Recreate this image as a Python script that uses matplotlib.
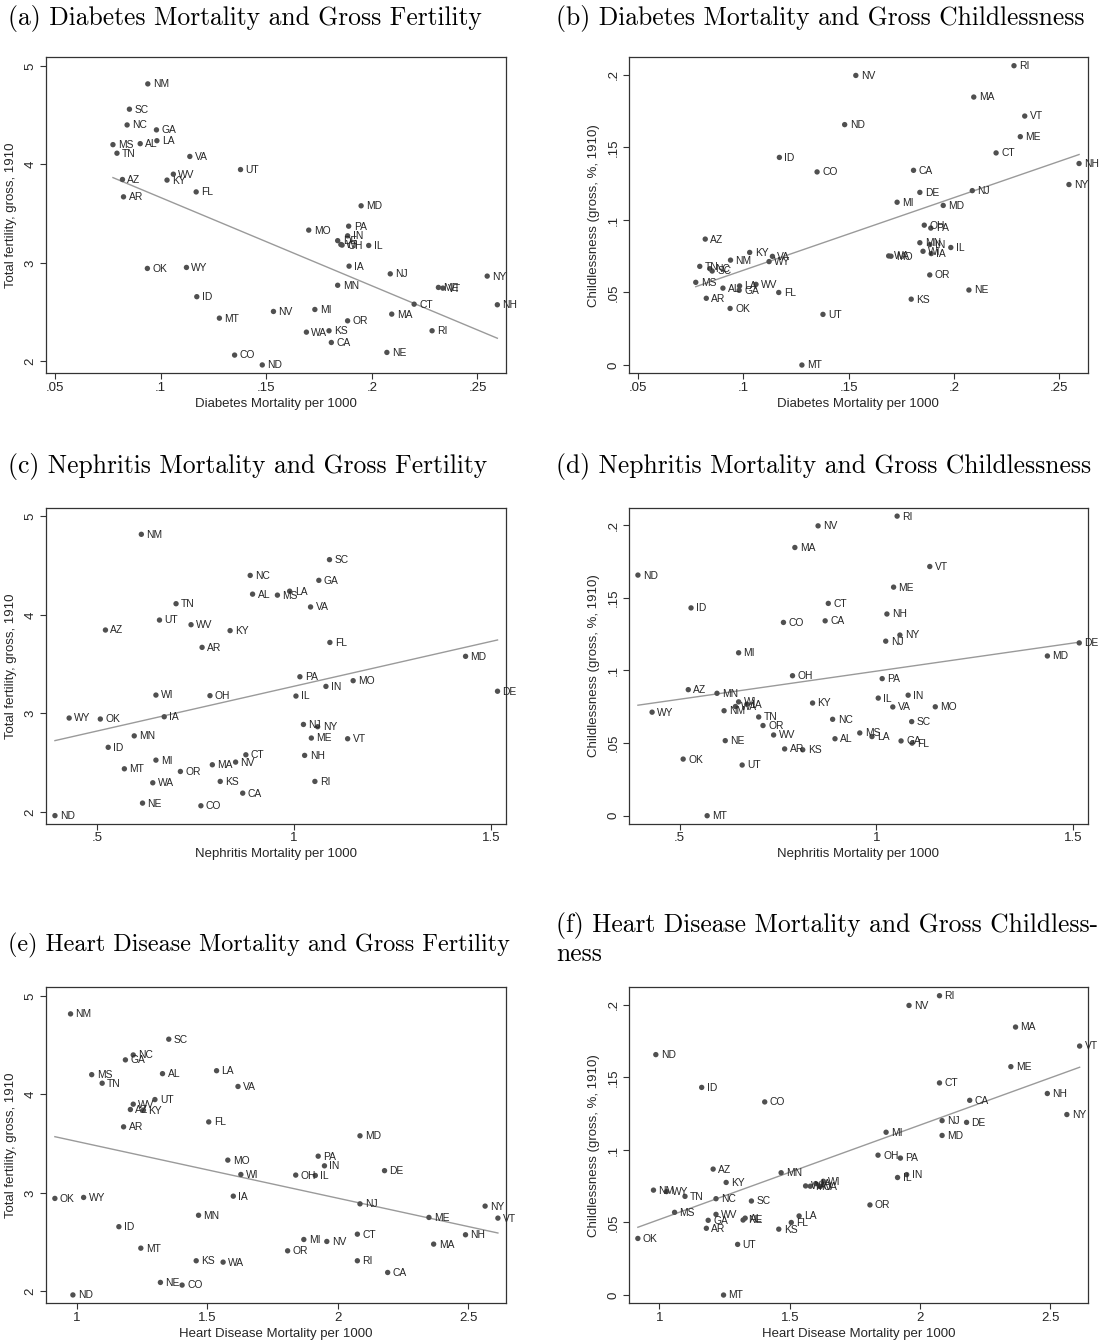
import numpy as np
import matplotlib
matplotlib.use("Agg")
import matplotlib.pyplot as plt
from matplotlib.ticker import FixedLocator, FixedFormatter
import warnings
warnings.filterwarnings("ignore")

# ---------------- data ----------------
states = ["AL", "AZ", "AR", "CA", "CO", "CT", "DE", "FL", "GA", "ID", "IL", "IN",
          "IA", "KS", "KY", "LA", "ME", "MD", "MA", "MI", "MN", "MS", "MO", "MT",
          "NE", "NV", "NH", "NJ", "NM", "NY", "NC", "ND", "OH", "OK", "OR", "PA",
          "RI", "SC", "TN", "UT", "VT", "VA", "WA", "WV", "WI", "WY"]

diabetes = [0.0903, 0.0819, 0.0824, 0.1808, 0.1350, 0.2200, 0.1838, 0.1168, 0.0980, 0.1171, 0.1985, 0.1885,
            0.1892, 0.1797, 0.1030, 0.0982, 0.2315, 0.1949, 0.2094, 0.1730, 0.1838, 0.0774, 0.1701, 0.1278,
            0.2071, 0.1534, 0.2594, 0.2087, 0.0939, 0.2546, 0.0841, 0.1481, 0.1859, 0.0937, 0.1885, 0.1890,
            0.2285, 0.0852, 0.0793, 0.1378, 0.2336, 0.1138, 0.1690, 0.1060, 0.1853, 0.1122]

nephritis = [0.895, 0.522, 0.767, 0.870, 0.764, 0.878, 1.516, 1.091, 1.063, 0.529, 1.005, 1.081,
             0.671, 0.813, 0.838, 0.989, 1.044, 1.435, 0.793, 0.650, 0.595, 0.958, 1.150, 0.570,
             0.616, 0.852, 1.027, 1.024, 0.613, 1.060, 0.889, 0.394, 0.787, 0.509, 0.712, 1.015,
             1.053, 1.090, 0.701, 0.659, 1.136, 1.042, 0.642, 0.739, 0.650, 0.430]

heart = [1.329, 1.206, 1.180, 2.191, 1.404, 2.075, 2.179, 1.506, 1.187, 1.162, 1.914, 1.949,
         1.600, 1.458, 1.256, 1.536, 2.349, 2.085, 2.367, 1.870, 1.467, 1.058, 1.579, 1.246,
         1.321, 1.958, 2.489, 2.085, 0.977, 2.564, 1.217, 0.986, 1.839, 0.917, 1.808, 1.925,
         2.075, 1.353, 1.098, 1.300, 2.613, 1.618, 1.561, 1.217, 1.629, 1.027]

fertility = [4.21, 3.846, 3.67, 2.191, 2.063, 2.58, 3.225, 3.72, 4.35, 2.656, 3.176, 3.274,
             2.966, 2.31, 3.84, 4.24, 2.75, 3.579, 2.479, 2.526, 2.772, 4.20, 3.332, 2.438,
             2.090, 2.506, 2.574, 2.888, 4.817, 2.865, 4.40, 1.963, 3.18, 2.943, 2.411, 3.372,
             2.31, 4.56, 4.113, 3.947, 2.743, 4.08, 2.296, 3.90, 3.186, 2.953]

childless = [0.053, 0.0868, 0.046, 0.1342, 0.1331, 0.1462, 0.119, 0.050, 0.0515, 0.1431, 0.081, 0.083,
             0.0768, 0.0454, 0.0776, 0.0545, 0.1574, 0.110, 0.1847, 0.1122, 0.0843, 0.057, 0.075, 0.0,
             0.0517, 0.1996, 0.1389, 0.1202, 0.0723, 0.1244, 0.0664, 0.1657, 0.0964, 0.039, 0.0621, 0.0944,
             0.2063, 0.0648, 0.068, 0.0349, 0.1716, 0.0749, 0.0752, 0.0556, 0.0784, 0.0713]

# fitted lines as shown in the reference (intercept, slope), panels a..f
fit_intercept = [4.559, 0.01526, 2.3655, 0.06086, 4.0988, -0.01293]
fit_slope = [-8.963, 0.5005, 0.910, 0.03868, -0.5767, 0.06503]

titles = ["(a) Diabetes Mortality and Gross Fertility",
          "(b) Diabetes Mortality and Gross Childlessness",
          "(c) Nephritis Mortality and Gross Fertility",
          "(d) Nephritis Mortality and Gross Childlessness",
          "(e) Heart Disease Mortality and Gross Fertility",
          "(f) Heart Disease Mortality and Gross Childless-\nness"]

xlabels = ["Diabetes Mortality per 1000", "Nephritis Mortality per 1000",
           "Heart Disease Mortality per 1000"]
ylabels = ["Total fertility, gross, 1910", "Childlessness (gross, %, 1910)"]

diab_ticks = [0.05, 0.1, 0.15, 0.2, 0.25]
diab_ticklabels = [".05", ".1", ".15", ".2", ".25"]
neph_ticks = [0.5, 1.0, 1.5]
neph_ticklabels = [".5", "1", "1.5"]
heart_ticks = [1.0, 1.5, 2.0, 2.5]
heart_ticklabels = ["1", "1.5", "2", "2.5"]
fert_ticks = [2, 3, 4, 5]
fert_ticklabels = ["2", "3", "4", "5"]
child_ticks = [0, 0.05, 0.1, 0.15, 0.2]
child_ticklabels = ["0", ".05", ".1", ".15", ".2"]

# ---------------- layout ----------------
W, H = 1103, 1342
fig = plt.figure(figsize=(W / 100, H / 100), dpi=100)
fig.patch.set_facecolor("white")

SANS = ["Liberation Sans", "DejaVu Sans"]
SERIF = ["cmr10", "DejaVu Serif"]

MARK = "#505050"
LINE = "#9a9a9a"
TXT = "#262626"

def px_axes(l, t, r, b):
    return fig.add_axes([l / W, 1 - b / H, (r - l) / W, (b - t) / H])

xvars = [diabetes, nephritis, heart]
xlims = [(0.0457, 0.2635), (0.3713, 1.5375), (0.883, 2.644)]
xticks = [(diab_ticks, diab_ticklabels), (neph_ticks, neph_ticklabels),
          (heart_ticks, heart_ticklabels)]
yvars = [fertility, childless]
ylims = [(1.878, 5.087), (-0.0057, 0.2121)]
yticks = [(fert_ticks, fert_ticklabels), (child_ticks, child_ticklabels)]

rows_top = [(57.3, 373.3), (507.7, 824.0), (987.3, 1303.3)]
cols = [(46, 506), (629, 1087.7)]
title_pos = [[(8, 18), (556, 18)], [(8, 467), (556, 467)], [(8, 945), (556, 939)]]
title_size = [18.4, 18.4, 18.4, 18.4, 17.4, 18.4]

for r in range(3):
    for c in range(2):
        k = 2 * r + c
        t, b = rows_top[r]
        l, rr = cols[c]
        ax = px_axes(l, t, rr, b)
        x = np.array(xvars[r], dtype=float)
        y = np.array(yvars[c], dtype=float)
        ax.scatter(x, y, s=15, color=MARK, edgecolors="none", zorder=3)
        xs = np.array([x.min(), x.max()])
        ax.plot(xs, fit_intercept[k] + fit_slope[k] * xs, color=LINE, lw=1.0, zorder=2)
        for s, xi, yi in zip(states, x, y):
            ax.annotate(s, (xi, yi), xytext=(3.6, -0.3), textcoords="offset points",
                        ha="left", va="center", fontsize=7.4, color=TXT,
                        family=SANS, zorder=4)
        ax.set_xlim(*xlims[r])
        ax.set_ylim(*ylims[c])
        tk, tl = xticks[r]
        ax.xaxis.set_major_locator(FixedLocator(tk))
        ax.xaxis.set_major_formatter(FixedFormatter(tl))
        tk, tl = yticks[c]
        ax.yaxis.set_major_locator(FixedLocator(tk))
        ax.yaxis.set_major_formatter(FixedFormatter(tl))
        ax.tick_params(axis="both", direction="out", length=4, width=0.8,
                       color="#333333", labelsize=9.5, labelcolor=TXT)
        ax.tick_params(axis="x", pad=2)
        ax.tick_params(axis="y", pad=3)
        for lab in ax.get_yticklabels():
            lab.set_rotation(90)
            lab.set_va("center")
            lab.set_family(SANS)
        for lab in ax.get_xticklabels():
            lab.set_family(SANS)
        for sp in ax.spines.values():
            sp.set_color("#333333")
            sp.set_linewidth(0.9)
        ax.set_xlabel(xlabels[r], fontsize=9.5, family=SANS, color=TXT, labelpad=3)
        ax.set_ylabel(ylabels[c], fontsize=9.5, family=SANS, color=TXT, labelpad=5)
        tx, ty = title_pos[r][c]
        fig.text(tx / W, 1 - ty / H, titles[k], ha="left", va="center",
                 fontsize=title_size[k], family=SERIF, color="black", linespacing=1.15)

fig.savefig("out.png", dpi=100, facecolor="white")
